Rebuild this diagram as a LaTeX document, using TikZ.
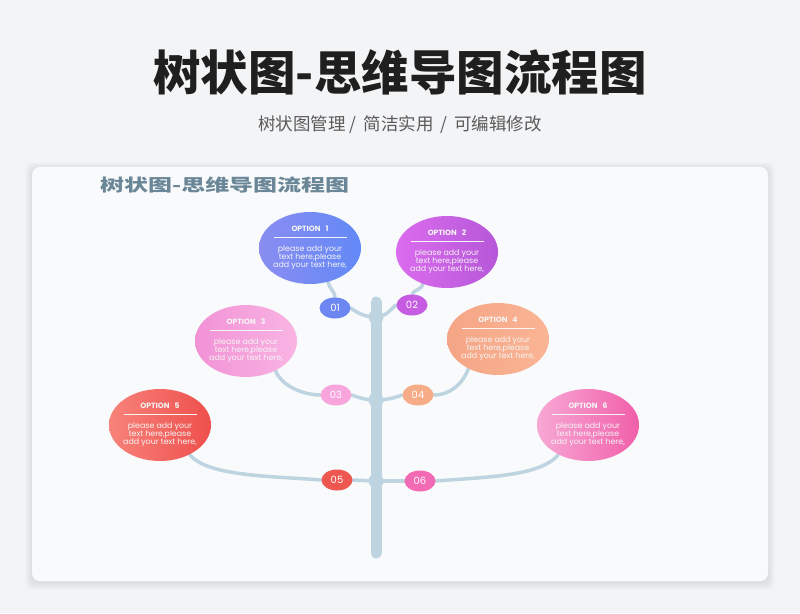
\documentclass[tikz,border=0pt]{standalone}
\usepackage{fontspec}
\usepackage{graphicx}
\setmainfont{Poppins}
\newfontfamily\cjk{Noto Sans CJK SC}
\usetikzlibrary{shapes.geometric}
\definecolor{bgc}{HTML}{F3F4F6}
\definecolor{cardc}{HTML}{F8FAFC}
\definecolor{trunkc}{HTML}{BED4E0}
\definecolor{titlec}{HTML}{1F1F1F}
\definecolor{subc}{HTML}{5A5A5A}
\definecolor{headc}{HTML}{6B8797}
\definecolor{oA1}{HTML}{8A8DF2}\definecolor{oB1}{HTML}{6289F6}
\definecolor{oA2}{HTML}{DB6CEE}\definecolor{oB2}{HTML}{B657D9}
\definecolor{oA3}{HTML}{F292D6}\definecolor{oB3}{HTML}{F9B4E3}
\definecolor{oA4}{HTML}{F5A585}\definecolor{oB4}{HTML}{FAB595}
\definecolor{oA5}{HTML}{F7837A}\definecolor{oB5}{HTML}{EF4F4C}
\definecolor{oA6}{HTML}{F8A8D5}\definecolor{oB6}{HTML}{F15FAA}
\definecolor{bc1}{HTML}{6D87F2}
\definecolor{bc2}{HTML}{C65CE1}
\definecolor{bc3}{HTML}{F7A5DC}
\definecolor{bc4}{HTML}{F5AC87}
\definecolor{bc5}{HTML}{EE5650}
\definecolor{bc6}{HTML}{F26AB4}
\pgfdeclarelayer{bgl}
\pgfdeclarelayer{back}
\pgfsetlayers{bgl,back,main}
\newcommand\optbody[1]{\parbox{92pt}{\centering\fontsize{7.9}{8}\selectfont
{\bfseries\fontsize{7.6}{8}\selectfont OPTION\hspace{5pt}#1}\\[-2.5pt]
\rule{73pt}{0.6pt}\\[6.5pt]
please add your\\ text here,please\\ add your text here,}}
\begin{document}
\begin{tikzpicture}[x=1pt,y=-1pt,
  optE/.style={ellipse, minimum width=102pt, minimum height=72pt, inner sep=0pt},
  optT/.style={inner sep=0pt, text=white!92!gray},
  badge/.style={ellipse, minimum width=31pt, minimum height=21pt, inner sep=0pt, text=white, font=\fontsize{10}{10}\selectfont},
  jn/.style={circle, fill=trunkc, minimum size=15pt, inner sep=0pt},
  conn/.style={draw=trunkc, line width=3.5pt, line cap=round}]
\useasboundingbox (0,0) rectangle (800,613);
\begin{pgfonlayer}{bgl}
\fill[bgc] (0,0) rectangle (800,613);
\foreach \i in {1,...,7}{
  \fill[black, opacity=0.012, rounded corners=8pt] (32-\i,167-\i+2) rectangle (768+\i,581+\i+2);
}
\fill[cardc, rounded corners=8pt] (32,167) rectangle (768,581);
\end{pgfonlayer}

\node[font=\cjk\bfseries\fontsize{47.5}{47.5}\selectfont, text=titlec] (title) at (400,72) {树状图-思维导图流程图};
\node[font=\cjk\fontsize{17.5}{17.5}\selectfont, text=subc] (sub) at (400,125) {树状图管理 / \,简洁实用 \,/ \,可编辑修改};
\node[font=\cjk\bfseries\fontsize{17}{17}\selectfont, text=headc, anchor=west, inner sep=0pt] (head) at (100,185) {\scalebox{1.41}[1]{树状图-思维导图流程图}};

% option ellipses
\node[optE, left color=oA1, right color=oB1] (o1) at (310,248) {};
\node[optE, left color=oA2, right color=oB2] (o2) at (447,252) {};
\node[optE, left color=oA3, right color=oB3] (o3) at (246,341) {};
\node[optE, left color=oA4, right color=oB4] (o4) at (498,339) {};
\node[optE, left color=oA5, right color=oB5] (o5) at (160,425) {};
\node[optE, left color=oA6, right color=oB6] (o6) at (588,425) {};
\node[optT] (o1t) at (o1.center) {\optbody{1}};
\node[optT] (o2t) at (o2.center) {\optbody{2}};
\node[optT] (o3t) at (o3.center) {\optbody{3}};
\node[optT] (o4t) at (o4.center) {\optbody{4}};
\node[optT] (o5t) at (o5.center) {\optbody{5}};
\node[optT] (o6t) at (o6.center) {\optbody{6}};

% badges
\node[badge, fill=bc1] (b1) at (335,308) {01};
\node[badge, fill=bc2] (b2) at (412,305) {02};
\node[badge, fill=bc3] (b3) at (336,395) {03};
\node[badge, fill=bc4] (b4) at (418,395) {04};
\node[badge, fill=bc5] (b5) at (337,480) {05};
\node[badge, fill=bc6] (b6) at (420,481) {06};

\begin{pgfonlayer}{back}
\coordinate (ttop) at (376,302);
\coordinate (tbot) at (376,553);
\draw[trunkc, line width=11pt, line cap=round] (ttop) -- (tbot);
\node[jn] (j1) at (376,317) {};
\node[jn] (j2) at (376,400) {};
\node[jn] (j3) at (376,481) {};
% option to badge
\draw[conn] (o1.-62) .. controls +(2,8) and +(0,-6) .. (b1.north);
\draw[conn] (o2.-127) .. controls +(-1,6) and +(2,-5) .. (b2.north);
\draw[conn] (o3.-45) .. controls +(6,16) and +(-16,0) .. (b3.west);
\draw[conn] (o4.-135) .. controls +(-6,16) and +(16,0) .. (b4.east);
\draw[conn] (o5.-45) .. controls +(18,22) and +(-50,-4) .. (b5.west);
\draw[conn] (o6.-135) .. controls +(-18,22) and +(50,-4) .. (b6.east);
% badge to trunk
\draw[conn] (b1.east) .. controls +(8,6) and +(-10,0) .. (j1.center);
\draw[conn] (b2.west) .. controls +(-8,6) and +(10,0) .. (j1.center);
\draw[conn] (b3.east) .. controls +(8,3) and +(-10,0) .. (j2.center);
\draw[conn] (b4.west) .. controls +(-8,3) and +(10,0) .. (j2.center);
\draw[conn] (b5.east) -- (j3.center);
\draw[conn] (b6.west) -- (j3.center);
\end{pgfonlayer}
\end{tikzpicture}
\end{document}
